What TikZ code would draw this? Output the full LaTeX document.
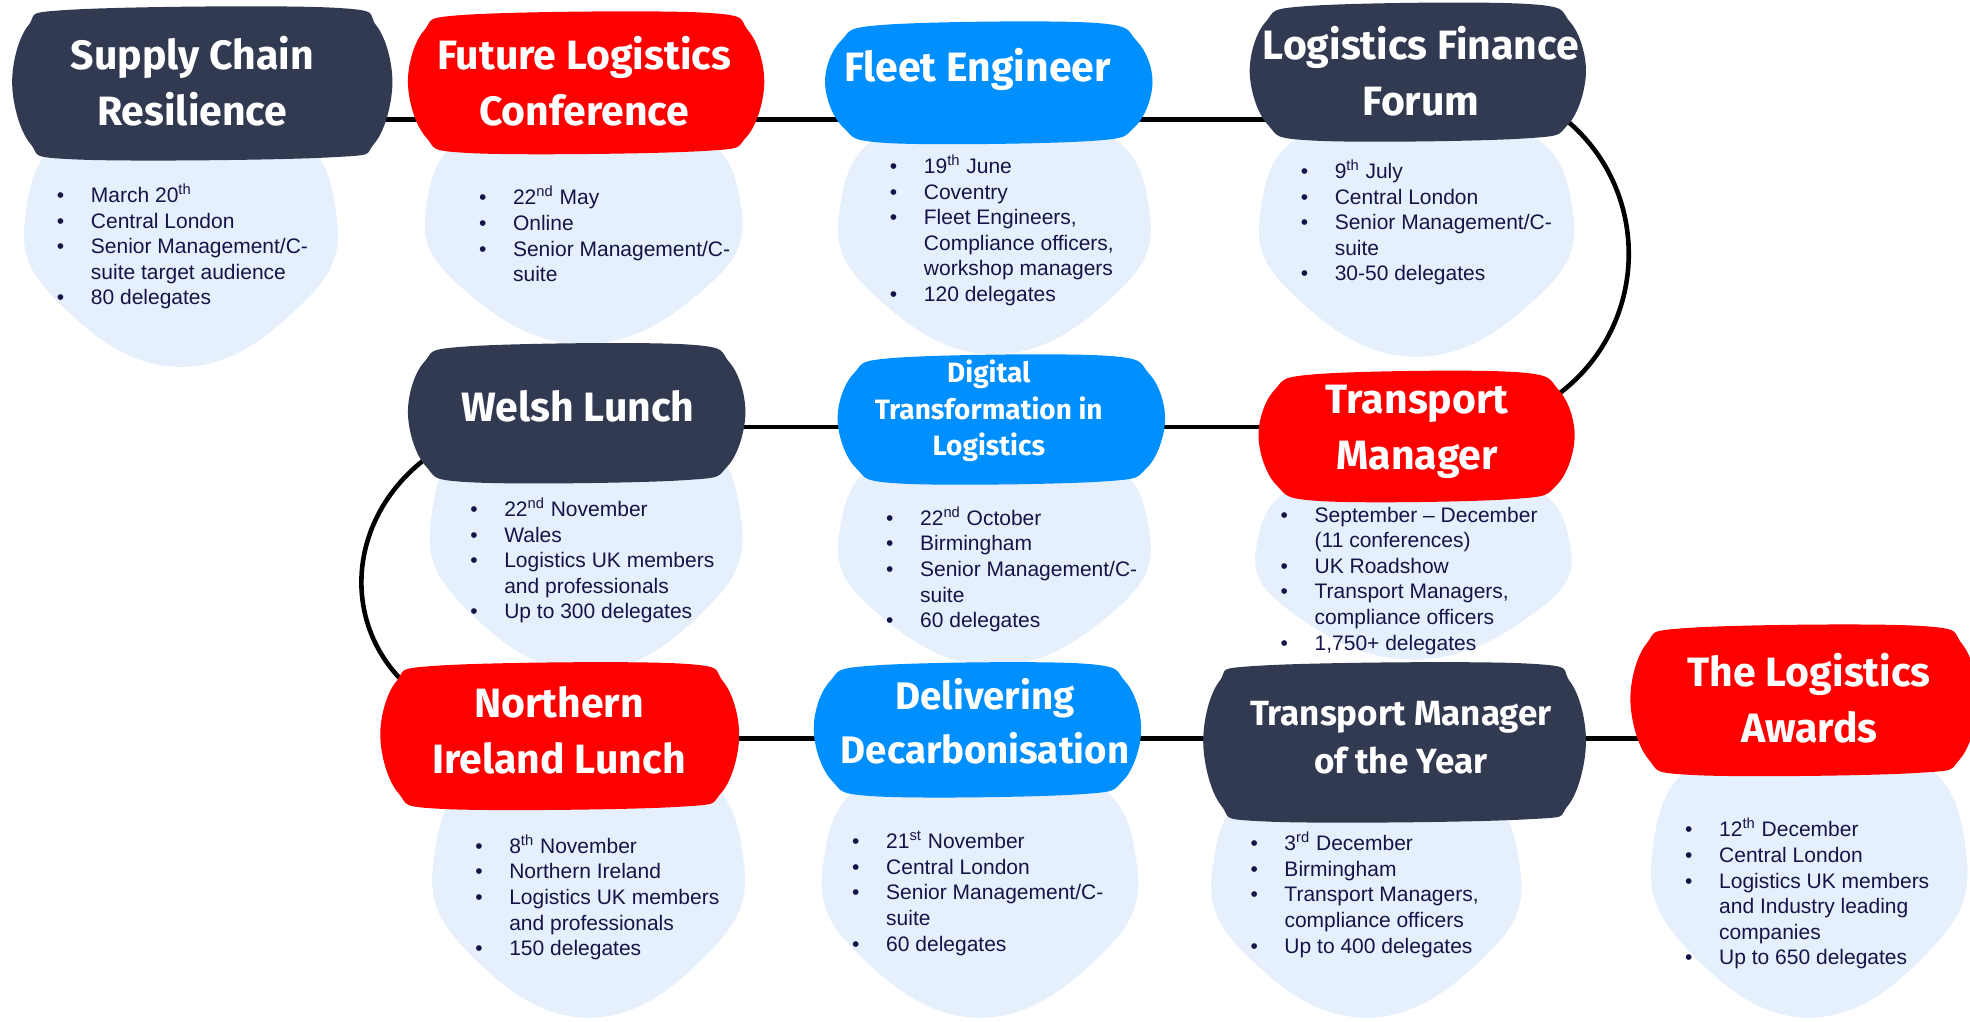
\documentclass[tikz,border=0pt]{standalone}
\usepackage{fontspec}
\setmainfont{Liberation Sans}
\newfontfamily\titlefont{Fira Sans}
\pgfdeclarelayer{lblayer}
\pgfdeclarelayer{lnlayer}
\pgfsetlayers{lblayer,lnlayer,main}
\definecolor{navy}{RGB}{50,58,82}
\definecolor{redb}{RGB}{255,0,0}
\definecolor{blueb}{RGB}{0,143,255}
\definecolor{lightb}{RGB}{230,240,252}
\definecolor{txt}{RGB}{20,20,70}
\newcommand{\bi}{\strut\makebox[17pt][l]{\textbullet}}
\newcommand{\bc}{\hspace*{17pt}}
\newcommand{\lblob}[4]{%
  \pgfmathsetmacro\lw{#3-#1}\pgfmathsetmacro\lh{#4-#2}%
  \fill[lightb] plot[smooth cycle,tension=0.75] coordinates {
    ({#1+0.2*\lw},{#2}) ({#3-0.2*\lw},{#2}) ({#3},{#2+0.38*\lh})
    ({#3-0.12*\lw},{#2+0.75*\lh}) ({#1+0.5*\lw},{#4})
    ({#1+0.12*\lw},{#2+0.75*\lh}) ({#1},{#2+0.38*\lh})};}
% organic rounded blob around a named frame node
\newcommand{\tblob}[2]{%
  \fill[#2] plot[smooth cycle,tension=0.6] coordinates {
    ([xshift=-30pt,yshift=1pt]#1.north east)
    ([shift={(-8pt,-8pt)}]#1.north east)
    (#1.east)
    ([shift={(-9pt,7pt)}]#1.south east)
    ([xshift=-32pt]#1.south east)
    ([xshift=32pt,yshift=-1pt]#1.south west)
    ([shift={(9pt,7pt)}]#1.south west)
    (#1.west)
    ([shift={(8pt,-8pt)}]#1.north west)
    ([xshift=30pt]#1.north west)};}
\begin{document}
\begin{tikzpicture}[x=0.6282pt,y=-0.6282pt,
  blob/.style 2 args={rectangle, inner sep=0pt,
    minimum width=#1*0.6282pt, minimum height=#2*0.6282pt},
  ttl/.style={align=center, text=white, inner sep=0pt,
    font=\titlefont\bfseries\fontsize{20.5}{28}\selectfont},
  lst/.style={anchor=north west, align=left, inner sep=0pt, text=txt,
    font=\fontsize{10.5}{12.8}\selectfont},
  conn/.style={line width=2.3pt, black}]
\useasboundingbox (0,0) rectangle (1568,813);
\clip (0,0) rectangle (1568,813);

% light blobs
\begin{pgfonlayer}{lblayer}
\lblob{20}{100}{268}{292}
\lblob{339}{100}{590}{274}
\lblob{668}{100}{915}{282}
\lblob{1003}{100}{1252}{284}
\lblob{343}{340}{590}{535}
\lblob{668}{360}{915}{530}
\lblob{1000}{380}{1250}{525}
\lblob{345}{610}{592}{810}
\lblob{655}{615}{905}{810}
\lblob{965}{620}{1210}{810}
\lblob{1315}{600}{1565}{810}
\end{pgfonlayer}

% title blob frames
\node[blob={302}{117}] (sc) at (161,66.5) {};
\node[blob={283}{108}] (flc) at (466.5,66) {};
\node[blob={260}{92}] (fe) at (787,66) {};
\node[blob={267}{105}] (lff) at (1128.5,57.5) {};
\node[blob={268}{106}] (wl) at (459,329) {};
\node[blob={260}{98}] (dt) at (797,334) {};
\node[blob={251}{99}] (tm) at (1127.5,347.5) {};
\node[blob={285}{112}] (nil) at (445.5,586) {};
\node[blob={260}{102}] (dd) at (778,581) {};
\node[blob={304}{122}] (tmy) at (1110,591) {};
\node[blob={276}{115}] (tla) at (1436,557.5) {};

\tblob{sc}{navy}
\tblob{flc}{redb}
\tblob{fe}{blueb}
\tblob{lff}{navy}
\tblob{wl}{navy}
\tblob{dt}{blueb}
\tblob{tm}{redb}
\tblob{nil}{redb}
\tblob{dd}{blueb}
\tblob{tmy}{navy}
\tblob{tla}{redb}

% connectors
\begin{pgfonlayer}{lnlayer}
\draw[conn] (sc.center |- 0,95) -- (lff.center |- 0,95);
\draw[conn] (lff.center) .. controls (1353,57.5) and (1352,347.5) .. (tm.center);
\draw[conn] (tm.center |- 0,340) -- (wl.center |- 0,340);
\draw[conn] (wl.center) .. controls (240,329) and (226,586) .. (nil.center);
\draw[conn] (nil.center |- 0,588) -- (tla.center |- 0,588);
\end{pgfonlayer}

% titles
\node[ttl] (sc-t) at (153,64.5) {Supply Chain\\Resilience};
\node[ttl] (flc-t) at (465,64.5) {Future Logistics\\Conference};
\node[ttl] (fe-t) at (778,55) {Fleet Engineer};
\node[ttl] (lff-t) at (1131,57) {Logistics Finance\\Forum};
\node[ttl] (wl-t) at (460,323) {Welsh Lunch};
\node[ttl, font=\titlefont\bfseries\fontsize{14}{18.2}\selectfont] (dt-t) at (787,327) {Digital\\Transformation in\\Logistics};
\node[ttl] (tm-t) at (1128,344) {Transport\\Manager};
\node[ttl] (nil-t) at (445,581) {Northern\\Ireland Lunch};
\node[ttl, font=\titlefont\bfseries\fontsize{19.2}{27}\selectfont] (dd-t) at (784,574) {Delivering\\Decarbonisation};
\node[ttl, font=\titlefont\bfseries\fontsize{17.5}{24}\selectfont] (tmy-t) at (1115,587) {Transport Manager\\of the Year};
\node[ttl] (tla-t) at (1440,555.5) {The Logistics\\Awards};

% lists
\node[lst] (l1) at (45,146) {\bi March 20\textsuperscript{th}\\\bi Central London\\\bi Senior Management/C-\\\bc suite target audience\\\bi 80 delegates};
\node[lst] (l2) at (381,148) {\bi 22\textsuperscript{nd} May\\\bi Online\\\bi Senior Management/C-\\\bc suite};
\node[lst] (l3) at (708,123) {\bi 19\textsuperscript{th} June\\\bi Coventry\\\bi Fleet Engineers,\\\bc Compliance officers,\\\bc workshop managers\\\bi 120 delegates};
\node[lst] (l4) at (1035,127) {\bi 9\textsuperscript{th} July\\\bi Central London\\\bi Senior Management/C-\\\bc suite\\\bi 30-50 delegates};
\node[lst] (l5) at (374,396) {\bi 22\textsuperscript{nd} November\\\bi Wales\\\bi Logistics UK members\\\bc and professionals\\\bi Up to 300 delegates};
\node[lst] (l6) at (705,403) {\bi 22\textsuperscript{nd} October\\\bi Birmingham\\\bi Senior Management/C-\\\bc suite\\\bi 60 delegates};
\node[lst] (l7) at (1019,401) {\bi September -- December\\\bc (11 conferences)\\\bi UK Roadshow\\\bi Transport Managers,\\\bc compliance officers\\\bi 1,750+ delegates};
\node[lst] (l8) at (378,664) {\bi 8\textsuperscript{th} November\\\bi Northern Ireland\\\bi Logistics UK members\\\bc and professionals\\\bi 150 delegates};
\node[lst] (l9) at (678,661) {\bi 21\textsuperscript{st} November\\\bi Central London\\\bi Senior Management/C-\\\bc suite\\\bi 60 delegates};
\node[lst] (l10) at (995,662) {\bi 3\textsuperscript{rd} December\\\bi Birmingham\\\bi Transport Managers,\\\bc compliance officers\\\bi Up to 400 delegates};
\node[lst] (l11) at (1341,651) {\bi 12\textsuperscript{th} December\\\bi Central London\\\bi Logistics UK members\\\bc and Industry leading\\\bc companies\\\bi Up to 650 delegates};
\end{tikzpicture}
\end{document}
